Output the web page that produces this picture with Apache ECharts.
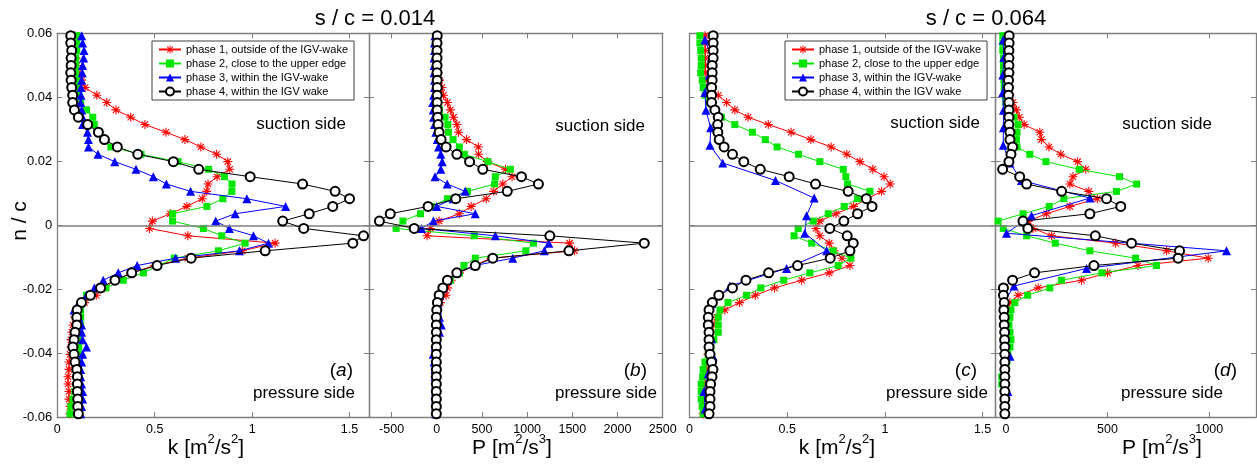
<!DOCTYPE html>
<html>
<head>
<meta charset="utf-8">
<script src="https://cdn.jsdelivr.net/npm/echarts@6/dist/echarts.min.js"></script>
<style>
  html, body { margin: 0; padding: 0; background: #fff; }
  #chart { width: 1257px; height: 474px; }
</style>
</head>
<body>
<div id="chart"></div>
<script>
// Traverse positions n/c (fine traverse, shared by most phases)
const ncFine = [
  0.0593, 0.0570, 0.0547, 0.0523, 0.0500, 0.0477, 0.0454, 0.0431, 0.0407, 0.0384,
  0.0361, 0.0338, 0.0315, 0.0291, 0.0268, 0.0245, 0.0222, 0.0199, 0.0175, 0.0152,
  0.0129, 0.0106, 0.0083, 0.0059, 0.0036, 0.0013, -0.0010, -0.0033, -0.0056, -0.0080,
  -0.0103, -0.0126, -0.0149, -0.0172, -0.0196, -0.0219, -0.0242, -0.0265, -0.0288, -0.0312,
  -0.0335, -0.0358, -0.0381, -0.0404, -0.0428, -0.0451, -0.0474, -0.0497, -0.0520, -0.0544,
  -0.0567, -0.0590
];
// Coarse traverse positions (phase 3 at s/c = 0.064)
const ncCoarse = [
  0.0580, 0.0525, 0.0470, 0.0415, 0.0360, 0.0305, 0.0250, 0.0195, 0.0140, 0.0085,
  0.0030, -0.0025, -0.0080, -0.0135, -0.0190, -0.0245, -0.0300, -0.0355, -0.0410, -0.0465,
  -0.0520, -0.0575
];

// s/c = 0.014 : turbulent kinetic energy k [m2/s2]
const kPh1_014 = [0.09,0.09,0.09,0.095,0.10,0.11,0.125,0.143,0.203,0.254,
  0.301,0.377,0.45,0.558,0.655,0.737,0.818,0.875,0.885,0.82,
  0.774,0.767,0.744,0.665,0.58,0.488,0.473,0.67,1.118,0.95,
  0.67,0.50,0.38,0.30,0.24,0.20,0.14,0.11,0.09,0.08,
  0.075,0.07,0.07,0.065,0.06,0.06,0.055,0.055,0.06,0.06,0.065,0.065];
const kPh2_014 = [0.10,0.10,0.10,0.095,0.095,0.095,0.10,0.10,0.11,0.12,
  0.15,0.182,0.19,0.215,0.24,0.275,0.43,0.62,0.777,0.858,
  0.897,0.896,0.85,0.768,0.592,0.592,0.75,0.844,0.964,0.827,
  0.601,0.52,0.442,0.339,0.25,0.15,0.13,0.12,0.12,0.12,
  0.115,0.11,0.11,0.11,0.11,0.105,0.10,0.10,0.09,0.08,0.07,0.065];
const kPh3_014 = [0.125,0.13,0.137,0.135,0.13,0.128,0.125,0.122,0.122,0.12,
  0.125,0.13,0.13,0.155,0.16,0.16,0.209,0.295,0.404,0.493,
  0.56,0.684,0.973,1.172,0.913,0.813,0.883,1.007,1.084,0.935,
  0.607,0.41,0.313,0.236,0.19,0.15,0.11,0.086,0.11,0.125,
  0.125,0.13,0.15,0.13,0.125,0.12,0.12,0.125,0.13,0.13,0.125,0.12];
const kPh4_014 = [0.069,0.069,0.074,0.071,0.071,0.069,0.071,0.074,0.079,0.079,
  0.088,0.108,0.156,0.211,0.242,0.308,0.413,0.596,0.726,0.99,
  1.259,1.426,1.5,1.414,1.293,1.157,1.265,1.572,1.517,1.067,
  0.687,0.512,0.382,0.296,0.222,0.17,0.124,0.102,0.10,0.10,
  0.091,0.086,0.080,0.086,0.091,0.10,0.103,0.103,0.103,0.105,0.105,0.108];

// s/c = 0.014 : production P [m2/s3]
const PPh1_014 = [5,5,5,5,10,15,30,55,74,118,
  150,185,222,241,330,460,463,560,760,833,
  730,630,548,380,250,25,-70,-108,1470,1525,
  600,420,250,160,120,103,40,10,0,0,
  0,-5,-5,0,0,0,-5,-5,0,0,0,0];
const PPh2_014 = [3,3,3,3,3,5,5,8,10,15,
  30,92,122,130,180,250,305,565,815,648,
  640,340,120,-60,-180,-375,-450,415,1070,985,
  426,300,250,150,60,15,5,0,0,0,
  0,-5,-5,-5,-5,0,0,0,-5,-5,-5,-5];
const PPh3_014 = [-20,-25,-25,-30,-30,-30,-25,-25,-35,-45,
  -40,-35,-25,-10,5,20,45,60,45,-19,
  115,315,180,0,426,-37,-170,648,1240,1190,
  840,420,220,120,70,30,15,10,30,50,
  30,0,-20,-40,-30,-20,-20,-15,-15,-15,-15,-10];
const PPh4_014 = [5,3,3,3,3,3,5,5,5,5,
  5,10,15,26,48,103,222,363,509,937,
  1125,780,210,-96,-515,-635,-250,1251,2296,1462,
  620,426,222,118,67,26,7,0,-5,-5,
  -5,-5,-5,-5,-5,-5,-5,-5,-5,-5,-5,-5];

// s/c = 0.064 : turbulent kinetic energy k [m2/s2]
const kPh1_064 = [0.08,0.08,0.08,0.08,0.08,0.08,0.09,0.11,0.147,0.19,
  0.232,0.30,0.403,0.52,0.621,0.725,0.805,0.872,0.938,0.996,
  1.027,0.983,0.91,0.84,0.75,0.667,0.647,0.667,0.715,0.74,
  0.78,0.821,0.715,0.574,0.435,0.337,0.256,0.181,0.14,0.12,
  0.11,0.10,0.10,0.095,0.09,0.085,0.08,0.08,0.075,0.07,0.07,0.07];
const kPh2_064 = [0.053,0.053,0.057,0.06,0.06,0.057,0.065,0.07,0.08,0.10,
  0.13,0.164,0.232,0.322,0.388,0.448,0.558,0.667,0.787,0.80,
  0.809,0.923,0.86,0.792,0.71,0.633,0.556,0.535,0.625,0.735,
  0.826,0.761,0.616,0.482,0.365,0.292,0.197,0.156,0.147,0.147,
  0.147,0.125,0.11,0.096,0.079,0.07,0.067,0.06,0.06,0.06,0.065,0.07];
const kPh3_064 = [0.079,0.113,0.101,0.079,0.084,0.108,0.105,0.17,0.44,0.638,
  0.599,0.59,0.702,0.497,0.207,0.113,0.104,0.113,0.121,0.096,0.074,0.08];
const kPh4_064 = [0.121,0.121,0.121,0.121,0.116,0.116,0.116,0.113,0.113,0.113,
  0.13,0.147,0.144,0.145,0.152,0.177,0.22,0.278,0.362,0.51,
  0.645,0.812,0.905,0.934,0.86,0.79,0.718,0.807,0.838,0.821,
  0.72,0.553,0.405,0.289,0.22,0.15,0.117,0.10,0.096,0.096,
  0.10,0.10,0.10,0.105,0.113,0.12,0.115,0.108,0.105,0.105,0.105,0.10];

// s/c = 0.064 : production P [m2/s3]
const PPh1_064 = [10,10,10,10,10,12,12,15,20,35,
  52,66,90,167,175,212,270,353,393,330,
  315,408,450,315,200,110,134,225,540,790,
  995,650,500,372,159,60,20,10,5,0,
  -5,-5,-5,-5,-5,-5,-5,-5,-5,-5,-5,-5];
const PPh2_064 = [-15,-15,-15,-12,-12,-12,-10,-8,-5,0,
  10,40,60,55,52,55,118,197,361,559,
  643,544,285,213,85,-38,-13,102,243,413,
  638,741,472,274,216,107,44,25,20,15,
  20,25,20,10,5,-10,-20,-20,-10,-5,-5,-5];
const PPh3_064 = [-13,-10,-15,-15,-12,-12,-13,20,77,413,
  126,3,1085,397,40,-13,-5,-10,20,-5,10,-5];
const PPh4_064 = [16,16,15,15,15,15,13,13,13,15,
  15,15,15,20,20,33,25,15,-16,68,
  102,274,495,565,413,84,108,440,618,854,
  847,433,141,33,-12,-12,-8,-10,-8,-8,
  -6,-6,-5,-5,-5,-5,-5,-5,-5,-5,-5,-5];

const phaseNames = [
  'phase 1, outside of the IGV-wake',
  'phase 2, close to the upper edge',
  'phase 3, within the IGV-wake',
  'phase 4, within the IGV wake'
];
const yTicks = [-0.06, -0.04, -0.02, 0, 0.02, 0.04, 0.06];

const FONT = "'Liberation Sans', Arial, Helvetica, sans-serif";
const FRAME = '#7f7f7f';
const ASTERISK = 'path://M-1,-0.12L1,-0.12L1,0.12L-1,0.12Z' +
  'M-0.12,-1L0.12,-1L0.12,1L-0.12,1Z' +
  'M-0.785,-0.615L-0.615,-0.785L0.785,0.615L0.615,0.785Z' +
  'M-0.615,0.785L-0.785,0.615L0.615,-0.785L0.785,-0.615Z';

const phaseStyle = [
  { color: '#ff0000', symbol: ASTERISK, size: 9 },
  { color: '#00e600', symbol: 'rect', size: 7 },
  { color: '#0000ff', symbol: 'triangle', size: 9 },
  { color: '#000000', symbol: 'emptyCircle', size: 9 }
];

// four panels: (a) k, (b) P at s/c=0.014 ; (c) k, (d) P at s/c=0.064
const panels = [
  { left: 57.3, width: 311.7, min: 0, max: 1.6, ticks: [0, 0.5, 1, 1.5], yLabels: true,
    sets: [kPh1_014, kPh2_014, kPh3_014, kPh4_014], blueN: ncFine },
  { left: 369, width: 293.7, min: -750, max: 2500, ticks: [-500, 0, 500, 1000, 1500, 2000, 2500],
    sets: [PPh1_014, PPh2_014, PPh3_014, PPh4_014], blueN: ncFine },
  { left: 689.5, width: 306.2, min: 0, max: 1.567, ticks: [0, 0.5, 1, 1.5],
    sets: [kPh1_064, kPh2_064, kPh3_064, kPh4_064], blueN: ncCoarse },
  { left: 995.7, width: 260.3, min: -50, max: 1230, ticks: [0, 500, 1000],
    sets: [PPh1_064, PPh2_064, PPh3_064, PPh4_064], blueN: ncCoarse }
];

const grid = [], xAxis = [], yAxis = [], series = [];
const lineOf = { lineStyle: { color: FRAME, width: 1.3 } };
const tickOf = { inside: true, length: 5, lineStyle: { color: FRAME, width: 1 } };

panels.forEach((p, gi) => {
  grid.push({ left: p.left, top: 33.5, width: p.width, height: 383.5,
              containLabel: false, outerBoundsMode: 'none' });
  xAxis.push({ type: 'value', gridIndex: gi, position: 'bottom', min: p.min, max: p.max,
    axisLine: Object.assign({ show: true, onZero: false }, lineOf),
    axisTick: Object.assign({ customValues: p.ticks }, tickOf),
    axisLabel: { customValues: p.ticks, color: '#000', fontSize: 12.5, fontFamily: FONT, margin: 6,
                 formatter: v => String(v) },
    splitLine: { show: false } });
  xAxis.push({ type: 'value', gridIndex: gi, position: 'top', min: p.min, max: p.max,
    axisLine: Object.assign({ show: true, onZero: false }, lineOf),
    axisTick: Object.assign({ customValues: p.ticks }, tickOf),
    axisLabel: { show: false }, splitLine: { show: false } });
  yAxis.push({ type: 'value', gridIndex: gi, position: 'left', min: -0.06, max: 0.06, interval: 0.02,
    axisLine: Object.assign({ show: true, onZero: false }, lineOf),
    axisTick: Object.assign({ customValues: yTicks }, tickOf),
    axisLabel: { show: !!p.yLabels, customValues: yTicks, color: '#000', fontSize: 13,
                 fontFamily: FONT, margin: 5,
                 formatter: v => (Math.abs(v) < 1e-9 ? '0' : v.toFixed(2)) },
    splitLine: { show: false } });
  yAxis.push({ type: 'value', gridIndex: gi, position: 'right', min: -0.06, max: 0.06, interval: 0.02,
    axisLine: Object.assign({ show: true, onZero: false }, lineOf),
    axisTick: Object.assign({ customValues: yTicks }, tickOf),
    axisLabel: { show: false }, splitLine: { show: false } });

  p.sets.forEach((vals, si) => {
    const st = phaseStyle[si];
    const ns = si === 2 ? p.blueN : ncFine;
    const s = {
      type: 'line', name: phaseNames[si],
      xAxisIndex: gi * 2, yAxisIndex: gi * 2,
      data: ns.map((n, i) => [vals[i], n]),
      symbol: st.symbol, symbolSize: st.size, showAllSymbol: true,
      lineStyle: { color: st.color, width: 1 },
      itemStyle: si === 3
        ? { color: '#000', borderColor: '#000', borderWidth: 1 }
        : { color: st.color, borderWidth: 0 },
      emphasis: { disabled: true },
      z: 2 + si,
      animation: false
    };
    if (si === 0) {
      s.markLine = {
        silent: true, symbol: ['none', 'none'], label: { show: false },
        lineStyle: { color: FRAME, width: 1.5, type: 'solid' },
        data: [{ yAxis: 0 }], animation: false
      };
    }
    series.push(s);
  });
});

const legendBase = {
  orient: 'vertical', top: 41, data: phaseNames, selectedMode: false,
  itemWidth: 22, itemHeight: 10, itemGap: 3,
  padding: [3, 6, 3, 6], borderColor: '#404040', borderWidth: 1, backgroundColor: '#fff',
  textStyle: { fontSize: 11, fontFamily: FONT, color: '#000' }
};

function txt(x, y, text, size, align, extra) {
  return Object.assign({
    type: 'text', x: x, y: y, silent: true,
    style: Object.assign({
      text: text, fontSize: size, fontFamily: FONT, fill: '#000',
      align: align || 'center', verticalAlign: 'middle',
      textAlign: align || 'center', textVerticalAlign: 'middle'
    }, extra || {})
  });
}
function unitText(x, y, base, e1, e2) {
  // axis title with superscript exponents, e.g. k [m^2/s^2]
  return txt(x, y, '{a|' + base + ' [m}{s|' + e1 + '}{a|/s}{s|' + e2 + '}{a|]}', 21, 'center', {
    rich: {
      a: { fontSize: 21, fontFamily: FONT, fill: '#000', verticalAlign: 'bottom', lineHeight: 26 },
      s: { fontSize: 13, fontFamily: FONT, fill: '#000', verticalAlign: 'top', lineHeight: 13 }
    }
  });
}
function panelTag(x, y, letter) {
  return txt(x, y, '{n|(}{i|' + letter + '}{n|)}', 19, 'right', {
    rich: {
      n: { fontSize: 19, fontFamily: FONT, fill: '#000' },
      i: { fontSize: 19, fontFamily: FONT, fill: '#000', fontStyle: 'italic' }
    }
  });
}

const graphic = [
  txt(375, 19, 's / c = 0.014', 22),
  txt(986, 19, 's / c = 0.064', 22),
  Object.assign(txt(20, 221, 'n / c', 21), { rotation: Math.PI / 2 }),
  unitText(206, 446, 'k', '2', '2'),
  unitText(512, 446, 'P', '2', '3'),
  unitText(837, 446, 'k', '2', '2'),
  unitText(1162, 446, 'P', '2', '3'),
  txt(346, 124, 'suction side', 17, 'right'),
  txt(645, 126, 'suction side', 17, 'right'),
  txt(980, 123, 'suction side', 17, 'right'),
  txt(1212, 124, 'suction side', 17, 'right'),
  txt(355, 393, 'pressure side', 17, 'right'),
  txt(657, 393, 'pressure side', 17, 'right'),
  txt(988, 393, 'pressure side', 17, 'right'),
  txt(1223, 393, 'pressure side', 17, 'right'),
  panelTag(353, 371, 'a'),
  panelTag(647, 371, 'b'),
  panelTag(977, 371, 'c'),
  panelTag(1237, 371, 'd')
];

const chart = echarts.init(document.getElementById('chart'), null, { renderer: 'canvas' });
chart.setOption({
  animation: false,
  backgroundColor: '#fff',
  grid: grid, xAxis: xAxis, yAxis: yAxis, series: series,
  legend: [
    Object.assign({ left: 152 }, legendBase),
    Object.assign({ left: 785 }, legendBase)
  ],
  graphic: graphic
});
</script>
</body>
</html>
